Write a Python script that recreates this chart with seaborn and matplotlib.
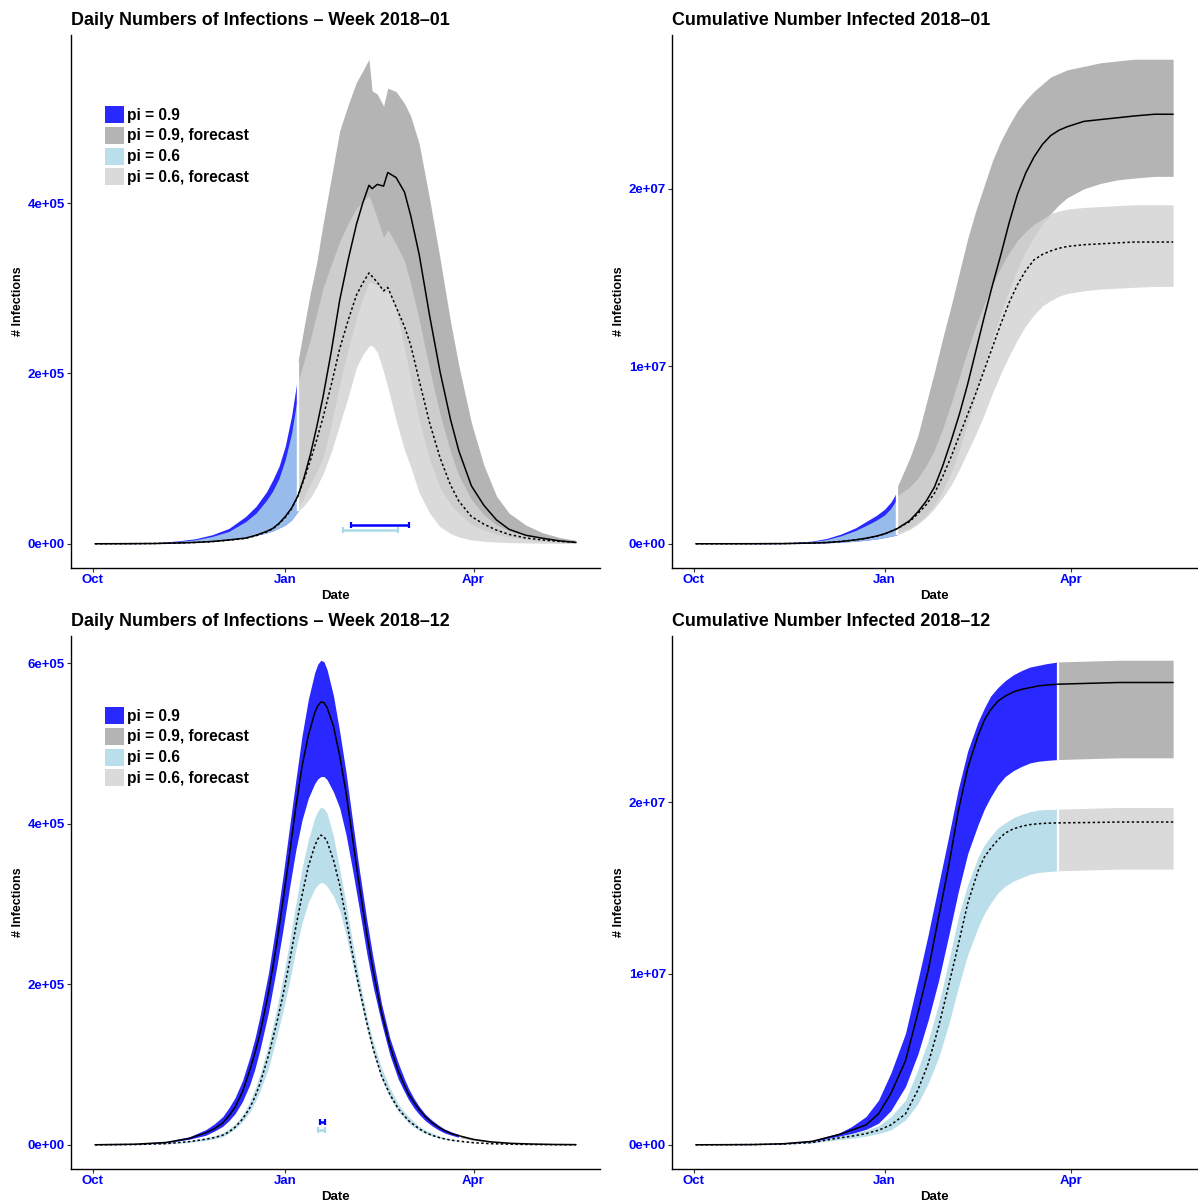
import numpy as np
import pandas as pd
import matplotlib
matplotlib.use("Agg")
import matplotlib.pyplot as plt
import matplotlib.dates as mdates
import matplotlib.ticker as mticker
from matplotlib.patches import Patch
import seaborn as sns

# ---------------------------------------------------------------- data
# days counted from 2017-10-01; daily values in units of 1e5, cumulative in 1e7
DAILY_UNIT = 1e5
CUM_UNIT = 1e7

# ---- Top-left: daily, week 2018-01
tl_obs_days = [1, 15, 29, 41, 49, 57, 65, 73, 78, 83, 86, 89, 92, 95, 98]
tl_obs_p9_hi = [0.0, 0.002, 0.01, 0.035, 0.059, 0.106, 0.18, 0.32, 0.44, 0.61, 0.75, 0.91, 1.15, 1.50, 1.98]
tl_obs_p9_lo = [0.0, 0.001, 0.004, 0.01, 0.018, 0.03, 0.047, 0.074, 0.098, 0.127, 0.15, 0.185, 0.22, 0.28, 0.38]
tl_obs_p6_hi = [0.0, 0.002, 0.008, 0.028, 0.047, 0.086, 0.145, 0.26, 0.36, 0.51, 0.62, 0.77, 0.99, 1.30, 1.75]
tl_obs_p6_lo = [0.0, 0.001, 0.004, 0.01, 0.018, 0.03, 0.047, 0.074, 0.098, 0.127, 0.15, 0.185, 0.22, 0.28, 0.38]
tl_obs_med9 = [0.0, 0.001, 0.003, 0.01, 0.016, 0.027, 0.045, 0.067, 0.10, 0.145, 0.18, 0.24, 0.32, 0.42, 0.56]
tl_obs_med6 = [0.0, 0.001, 0.003, 0.009, 0.015, 0.025, 0.042, 0.063, 0.095, 0.14, 0.175, 0.235, 0.31, 0.41, 0.56]

tl_fc_days = [98, 101, 104, 107, 110, 114, 118, 122, 126, 129, 132, 133.5, 136, 139, 141, 145,
              149, 152, 156, 161, 166, 171, 175, 181, 187, 193, 199, 207, 215, 223, 231]
tl_fc_p9_hi = [2.13, 2.55, 2.95, 3.30, 3.75, 4.30, 4.85, 5.15, 5.42, 5.55, 5.69, 5.32, 5.28, 5.14, 5.35, 5.31,
               5.17, 5.02, 4.70, 4.05, 3.35, 2.61, 2.09, 1.42, 0.92, 0.56, 0.36, 0.22, 0.13, 0.075, 0.04]
tl_fc_p9_lo = [0.42, 0.55, 0.70, 0.84, 1.01, 1.40, 1.87, 2.28, 2.65, 2.88, 3.07, 3.06, 3.04, 2.95, 2.98, 2.75,
               2.30, 1.92, 1.45, 0.99, 0.66, 0.46, 0.36, 0.23, 0.16, 0.11, 0.08, 0.05, 0.03, 0.018, 0.01]
tl_fc_p6_hi = [1.89, 2.15, 2.40, 2.70, 3.00, 3.28, 3.55, 3.76, 3.94, 4.02, 4.09, 4.00, 3.82, 3.60, 3.69, 3.52,
               3.32, 3.05, 2.63, 2.05, 1.52, 1.08, 0.80, 0.52, 0.34, 0.22, 0.15, 0.095, 0.06, 0.04, 0.03]
tl_fc_p6_lo = [0.38, 0.45, 0.54, 0.67, 0.82, 1.08, 1.40, 1.72, 2.07, 2.22, 2.32, 2.33, 2.25, 2.02, 1.84, 1.45,
               1.10, 0.90, 0.60, 0.36, 0.20, 0.12, 0.08, 0.045, 0.03, 0.02, 0.014, 0.01, 0.007, 0.005, 0.004]
tl_fc_med9 = [0.56, 0.78, 1.05, 1.37, 1.72, 2.26, 2.86, 3.33, 3.75, 4.00, 4.21, 4.17, 4.22, 4.20, 4.36, 4.30,
              4.13, 3.85, 3.40, 2.68, 2.02, 1.46, 1.09, 0.68, 0.45, 0.28, 0.17, 0.10, 0.065, 0.035, 0.016]
tl_fc_med6 = [0.56, 0.76, 0.98, 1.22, 1.48, 1.87, 2.29, 2.62, 2.92, 3.06, 3.18, 3.14, 3.07, 2.97, 3.01, 2.78,
              2.55, 2.33, 1.92, 1.42, 1.01, 0.69, 0.50, 0.32, 0.23, 0.16, 0.11, 0.068, 0.045, 0.028, 0.016]
# peak-timing intervals: (start day, end day, height)
tl_peak_p9 = (123.6, 151.3, 0.22)
tl_peak_p6 = (119.7, 146.0, 0.165)

# ---- Top-right: cumulative, week 2018-01
tr_obs_days = [1, 15, 29, 43, 57, 64, 71, 78, 83, 88, 92, 95, 98]
tr_obs_p9_hi = [0.0, 0.0003, 0.001, 0.004, 0.015, 0.03, 0.055, 0.09, 0.125, 0.16, 0.195, 0.235, 0.295]
tr_obs_p9_lo = [0.0, 0.0001, 0.0003, 0.001, 0.003, 0.005, 0.009, 0.014, 0.02, 0.027, 0.035, 0.042, 0.05]
tr_obs_p6_hi = [0.0, 0.0002, 0.0008, 0.003, 0.012, 0.024, 0.045, 0.075, 0.103, 0.133, 0.163, 0.20, 0.255]
tr_obs_p6_lo = [0.0, 0.0001, 0.0003, 0.001, 0.003, 0.005, 0.009, 0.014, 0.02, 0.027, 0.035, 0.042, 0.05]
tr_obs_med9 = [0.0, 0.0001, 0.0003, 0.001, 0.004, 0.007, 0.013, 0.022, 0.031, 0.043, 0.056, 0.07, 0.085]
tr_obs_med6 = [0.0, 0.0001, 0.0003, 0.001, 0.004, 0.007, 0.013, 0.022, 0.031, 0.043, 0.056, 0.07, 0.085]

tr_fc_days = [98, 104, 108, 112, 116, 120, 124, 128, 132, 136, 140, 144, 148, 152, 156, 160, 164,
              168, 172, 176, 180, 188, 196, 204, 212, 222, 231]
tr_fc_p9_hi = [0.32, 0.48, 0.61, 0.79, 0.97, 1.16, 1.34, 1.53, 1.72, 1.88, 2.02, 2.16, 2.27, 2.36, 2.44,
               2.50, 2.55, 2.59, 2.63, 2.65, 2.67, 2.69, 2.71, 2.72, 2.73, 2.73, 2.73]
tr_fc_p9_lo = [0.06, 0.09, 0.12, 0.16, 0.22, 0.30, 0.40, 0.53, 0.68, 0.84, 1.00, 1.16, 1.30, 1.43, 1.55,
               1.65, 1.73, 1.80, 1.86, 1.91, 1.95, 2.00, 2.03, 2.05, 2.06, 2.07, 2.07]
tr_fc_p6_hi = [0.27, 0.32, 0.37, 0.44, 0.53, 0.65, 0.79, 0.94, 1.09, 1.23, 1.35, 1.46, 1.56, 1.64, 1.71,
               1.76, 1.80, 1.83, 1.86, 1.875, 1.885, 1.895, 1.90, 1.905, 1.91, 1.91, 1.91]
tr_fc_p6_lo = [0.05, 0.08, 0.11, 0.15, 0.20, 0.26, 0.33, 0.42, 0.52, 0.62, 0.73, 0.85, 0.96, 1.06, 1.15,
               1.23, 1.29, 1.34, 1.37, 1.395, 1.41, 1.425, 1.435, 1.44, 1.445, 1.45, 1.45]
tr_fc_med9 = [0.085, 0.13, 0.18, 0.24, 0.32, 0.44, 0.58, 0.73, 0.90, 1.09, 1.28, 1.46, 1.63, 1.81, 1.97,
              2.09, 2.18, 2.25, 2.30, 2.33, 2.35, 2.38, 2.39, 2.40, 2.41, 2.42, 2.42]
tr_fc_med6 = [0.085, 0.125, 0.17, 0.22, 0.285, 0.38, 0.49, 0.61, 0.73, 0.85, 0.98, 1.11, 1.24, 1.36, 1.46,
              1.54, 1.60, 1.63, 1.65, 1.665, 1.675, 1.685, 1.69, 1.695, 1.70, 1.70, 1.70]

# ---- Bottom-left: daily, week 2018-12
bl_obs_days = [1, 20, 35, 46, 54, 58, 62, 65, 68, 71.5, 75, 77.5, 80, 84, 88, 91, 94, 97, 100, 103,
               106, 107.5, 109, 110.5, 112, 115, 118, 121, 124, 127, 131, 134, 138, 142, 146, 149,
               151, 153.5, 156, 159, 162, 165, 168, 171.5, 175.5]
bl_obs_p9_hi = [0.001, 0.01, 0.04, 0.10, 0.19, 0.26, 0.35, 0.46, 0.59, 0.80, 1.09, 1.33, 1.62, 2.15, 2.82,
                3.37, 3.96, 4.54, 5.10, 5.55, 5.88, 5.99, 6.04, 6.02, 5.92, 5.60, 5.15, 4.65, 4.07, 3.50,
                2.80, 2.33, 1.76, 1.33, 1.02, 0.82, 0.70, 0.58, 0.48, 0.38, 0.31, 0.25, 0.20, 0.16, 0.125]
bl_obs_p9_lo = [0.001, 0.005, 0.025, 0.07, 0.12, 0.17, 0.23, 0.30, 0.39, 0.54, 0.75, 0.95, 1.20, 1.66, 2.23,
                2.70, 3.20, 3.67, 4.05, 4.32, 4.50, 4.56, 4.59, 4.59, 4.55, 4.40, 4.20, 3.87, 3.45, 3.00,
                2.38, 1.97, 1.52, 1.12, 0.82, 0.66, 0.56, 0.46, 0.38, 0.30, 0.24, 0.19, 0.15, 0.12, 0.09]
bl_obs_p6_hi = [0.001, 0.005, 0.02, 0.05, 0.09, 0.115, 0.15, 0.20, 0.26, 0.37, 0.54, 0.70, 0.89, 1.25, 1.71,
                2.10, 2.53, 3.00, 3.45, 3.80, 4.07, 4.16, 4.21, 4.19, 4.13, 3.85, 3.44, 3.02, 2.55, 2.12,
                1.60, 1.29, 0.96, 0.71, 0.51, 0.41, 0.35, 0.29, 0.23, 0.185, 0.15, 0.115, 0.09, 0.07, 0.05]
bl_obs_p6_lo = [0.001, 0.003, 0.012, 0.03, 0.055, 0.075, 0.10, 0.145, 0.20, 0.29, 0.41, 0.53, 0.68, 0.96, 1.36,
                1.68, 2.03, 2.43, 2.77, 3.02, 3.19, 3.24, 3.27, 3.26, 3.22, 3.10, 2.92, 2.62, 2.26, 1.90,
                1.44, 1.14, 0.82, 0.59, 0.42, 0.33, 0.27, 0.22, 0.18, 0.14, 0.11, 0.088, 0.07, 0.053, 0.04]
bl_obs_med9 = [0.001, 0.008, 0.03, 0.08, 0.15, 0.20, 0.27, 0.36, 0.47, 0.66, 0.93, 1.15, 1.40, 1.90, 2.53,
               3.07, 3.62, 4.21, 4.72, 5.10, 5.38, 5.47, 5.52, 5.51, 5.45, 5.22, 4.85, 4.40, 3.85, 3.30,
               2.62, 2.17, 1.65, 1.24, 0.92, 0.74, 0.63, 0.53, 0.44, 0.35, 0.28, 0.225, 0.18, 0.14, 0.11]
bl_obs_med6 = [0.001, 0.004, 0.015, 0.04, 0.07, 0.09, 0.12, 0.16, 0.22, 0.32, 0.46, 0.60, 0.77, 1.12, 1.53,
               1.88, 2.28, 2.71, 3.11, 3.47, 3.72, 3.81, 3.86, 3.84, 3.78, 3.55, 3.24, 2.83, 2.40, 2.00,
               1.52, 1.20, 0.86, 0.63, 0.45, 0.36, 0.30, 0.25, 0.20, 0.155, 0.12, 0.095, 0.075, 0.058, 0.045]

bl_fc_days = [175.5, 182, 190, 200, 210, 220, 231]
bl_fc_p9_hi = [0.125, 0.08, 0.045, 0.022, 0.011, 0.006, 0.003]
bl_fc_p9_lo = [0.09, 0.055, 0.03, 0.015, 0.008, 0.004, 0.002]
bl_fc_p6_hi = [0.05, 0.03, 0.017, 0.009, 0.005, 0.003, 0.002]
bl_fc_p6_lo = [0.04, 0.024, 0.013, 0.007, 0.004, 0.002, 0.001]
bl_fc_med9 = [0.11, 0.068, 0.038, 0.019, 0.01, 0.005, 0.003]
bl_fc_med6 = [0.045, 0.027, 0.015, 0.008, 0.004, 0.002, 0.001]
bl_peak_p9 = (108.5, 111.2, 0.28)
bl_peak_p6 = (107.4, 111.2, 0.19)

# ---- Bottom-right: cumulative, week 2018-12
br_obs_days = [1, 15, 29, 43, 57, 70, 76, 83, 89, 95, 102, 108, 113, 118, 123, 127.5, 132, 137, 140,
               143, 146.5, 150, 154, 158, 162, 166, 170, 175.5]
br_obs_p9_hi = [0.0, 0.0005, 0.002, 0.008, 0.025, 0.068, 0.106, 0.165, 0.26, 0.42, 0.65, 0.96, 1.23, 1.52,
                1.81, 2.08, 2.30, 2.47, 2.55, 2.62, 2.67, 2.71, 2.745, 2.77, 2.79, 2.80, 2.81, 2.82]
br_obs_p9_lo = [0.0, 0.0003, 0.001, 0.005, 0.016, 0.05, 0.065, 0.09, 0.126, 0.20, 0.34, 0.53, 0.73, 0.96,
                1.23, 1.48, 1.70, 1.87, 1.96, 2.03, 2.10, 2.15, 2.185, 2.21, 2.23, 2.24, 2.245, 2.25]
br_obs_p6_hi = [0.0, 0.0003, 0.0012, 0.005, 0.018, 0.05, 0.066, 0.085, 0.11, 0.165, 0.26, 0.44, 0.61, 0.82,
                1.08, 1.33, 1.52, 1.68, 1.75, 1.80, 1.85, 1.88, 1.91, 1.93, 1.945, 1.955, 1.958, 1.96]
br_obs_p6_lo = [0.0, 0.0002, 0.0008, 0.003, 0.01, 0.03, 0.038, 0.05, 0.065, 0.087, 0.145, 0.24, 0.36, 0.51,
                0.71, 0.92, 1.11, 1.27, 1.35, 1.41, 1.47, 1.51, 1.54, 1.56, 1.58, 1.59, 1.595, 1.60]
br_obs_med9 = [0.0, 0.0004, 0.0015, 0.006, 0.02, 0.06, 0.085, 0.116, 0.18, 0.30, 0.49, 0.77, 1.02, 1.33,
               1.64, 1.95, 2.20, 2.39, 2.48, 2.54, 2.59, 2.62, 2.645, 2.66, 2.67, 2.68, 2.685, 2.69]
br_obs_med6 = [0.0, 0.0003, 0.001, 0.004, 0.013, 0.04, 0.05, 0.065, 0.085, 0.116, 0.18, 0.32, 0.475, 0.69,
               0.94, 1.17, 1.41, 1.60, 1.68, 1.73, 1.78, 1.82, 1.845, 1.86, 1.87, 1.875, 1.878, 1.88]

br_fc_days = [175.5, 190, 205, 220, 231]
br_fc_p9_hi = [2.82, 2.825, 2.83, 2.83, 2.83]
br_fc_p9_lo = [2.25, 2.255, 2.26, 2.26, 2.26]
br_fc_p6_hi = [1.96, 1.965, 1.97, 1.97, 1.97]
br_fc_p6_lo = [1.60, 1.605, 1.61, 1.61, 1.61]
br_fc_med9 = [2.69, 2.695, 2.70, 2.70, 2.70]
br_fc_med6 = [1.88, 1.882, 1.885, 1.885, 1.885]

legend_labels = ["pi = 0.9", "pi = 0.9, forecast", "pi = 0.6", "pi = 0.6, forecast"]
titles = ["Daily Numbers of Infections \u2013 Week 2018\u201301",
          "Cumulative Number Infected 2018\u201301",
          "Daily Numbers of Infections \u2013 Week 2018\u201312",
          "Cumulative Number Infected 2018\u201312"]

# ---------------------------------------------------------------- style
sns.set_theme(style="ticks")
plt.rcParams['font.family'] = ['Liberation Sans', 'DejaVu Sans']
plt.rcParams['font.weight'] = 'bold'
plt.rcParams['axes.labelweight'] = 'bold'
plt.rcParams['axes.titleweight'] = 'bold'
plt.rcParams['text.color'] = 'black'
plt.rcParams['axes.labelcolor'] = 'black'

FILL_ALPHA = 0.84
C_P9 = "#0000FF"
C_P9_FC = "#A6A6A6"
C_P6 = "#ADD8E6"
C_P6_FC = "#D3D3D3"

START = pd.Timestamp("2017-10-01")


def to_x(days):
    return mdates.date2num(START + pd.to_timedelta(np.asarray(days, float), unit="D"))


def draw_panel(ax, unit, obs, fc, title, peaks=None, legend=False, ystep=2e5):
    od, o9h, o9l, o6h, o6l, om9, om6 = obs
    fd, f9h, f9l, f6h, f6l, fm9, fm6 = fc
    ox, fx = to_x(od), to_x(fd)
    s = unit
    ax.fill_between(ox, np.array(o9l) * s, np.array(o9h) * s, color=C_P9, alpha=FILL_ALPHA, lw=0)
    ax.fill_between(fx, np.array(f9l) * s, np.array(f9h) * s, color=C_P9_FC, alpha=FILL_ALPHA, lw=0)
    ax.fill_between(ox, np.array(o6l) * s, np.array(o6h) * s, color=C_P6, alpha=FILL_ALPHA, lw=0)
    ax.fill_between(fx, np.array(f6l) * s, np.array(f6h) * s, color=C_P6_FC, alpha=FILL_ALPHA, lw=0)

    # white separator where the forecast starts
    for lo_a, lo_b, hi_a, hi_b in ((o9l[-1], f9l[0], o9h[-1], f9h[0]), (o6l[-1], f6l[0], o6h[-1], f6h[0])):
        ax.vlines(fx[0], min(lo_a, lo_b) * s, max(hi_a, hi_b) * s, color="white", lw=1.6, zorder=2.5)

    allx = np.concatenate([ox, fx[1:]])
    m9 = np.concatenate([om9, fm9[1:]]) * s
    m6 = np.concatenate([om6, fm6[1:]]) * s
    df9 = pd.DataFrame({"x": allx, "y": m9})
    df6 = pd.DataFrame({"x": allx, "y": m6})
    sns.lineplot(data=df9, x="x", y="y", ax=ax, color="black", lw=1.1, estimator=None, sort=False, zorder=3)
    sns.lineplot(data=df6, x="x", y="y", ax=ax, color="black", lw=1.1, estimator=None, sort=False,
                 linestyle=(0, (1.6, 1.6)), zorder=3)

    if peaks is not None:
        for (a, b, h), c in zip(peaks, [C_P9, C_P6]):
            xa, xb = to_x([a, b])
            ax.errorbar((xa + xb) / 2, h * s, xerr=(xb - xa) / 2, fmt="none", ecolor=c,
                        elinewidth=1.8, capsize=2.2, capthick=1.6)

    ax.margins(x=0.05, y=0.05)
    ax.xaxis.set_major_locator(mdates.MonthLocator(bymonth=[1, 4, 10]))
    ax.xaxis.set_major_formatter(mdates.DateFormatter("%b"))
    ax.yaxis.set_major_locator(mticker.MultipleLocator(ystep))
    ax.yaxis.set_major_formatter(mticker.FuncFormatter(lambda v, p: f"{v:.0e}"))
    ax.tick_params(axis="both", labelcolor="blue", labelsize=9.5, length=2.8, width=0.8,
                   color="#333333", pad=1.5)
    ax.set_xlabel("Date", fontsize=9.5, labelpad=3, color="black")
    ax.set_ylabel("# Infections", fontsize=9, labelpad=2.5, color="black")
    ax.set_title(title, loc="left", fontsize=12.9, pad=7, color="black")
    sns.despine(ax=ax)
    for sp in ("left", "bottom"):
        ax.spines[sp].set_color("black")
        ax.spines[sp].set_linewidth(1.0)

    if legend:
        handles = [Patch(facecolor=c, alpha=FILL_ALPHA, edgecolor="none")
                   for c in (C_P9, C_P9_FC, C_P6, C_P6_FC)]
        ax.legend(handles, legend_labels, loc="upper left", bbox_to_anchor=(0.064, 0.867),
                  frameon=False, fontsize=11.2, handlelength=1.2, handleheight=1.3,
                  labelspacing=0.25, handletextpad=0.2, borderpad=0, borderaxespad=0,
                  labelcolor="black")


fig = plt.figure(figsize=(11.98, 12.02), dpi=100)
W, H = 1198.0, 1202.0


def axes_px(l, t, r, b):
    return fig.add_axes([l / W, 1 - b / H, (r - l) / W, (b - t) / H])


ax_tl = axes_px(71, 35, 600, 568)
ax_tr = axes_px(672, 35, 1197, 568)
ax_bl = axes_px(71, 636, 600, 1169)
ax_br = axes_px(672, 636, 1197, 1169)

draw_panel(ax_tl, DAILY_UNIT,
           (tl_obs_days, tl_obs_p9_hi, tl_obs_p9_lo, tl_obs_p6_hi, tl_obs_p6_lo, tl_obs_med9, tl_obs_med6),
           (tl_fc_days, tl_fc_p9_hi, tl_fc_p9_lo, tl_fc_p6_hi, tl_fc_p6_lo, tl_fc_med9, tl_fc_med6),
           titles[0], peaks=(tl_peak_p9, tl_peak_p6), legend=True, ystep=2e5)
draw_panel(ax_tr, CUM_UNIT,
           (tr_obs_days, tr_obs_p9_hi, tr_obs_p9_lo, tr_obs_p6_hi, tr_obs_p6_lo, tr_obs_med9, tr_obs_med6),
           (tr_fc_days, tr_fc_p9_hi, tr_fc_p9_lo, tr_fc_p6_hi, tr_fc_p6_lo, tr_fc_med9, tr_fc_med6),
           titles[1], ystep=1e7)
draw_panel(ax_bl, DAILY_UNIT,
           (bl_obs_days, bl_obs_p9_hi, bl_obs_p9_lo, bl_obs_p6_hi, bl_obs_p6_lo, bl_obs_med9, bl_obs_med6),
           (bl_fc_days, bl_fc_p9_hi, bl_fc_p9_lo, bl_fc_p6_hi, bl_fc_p6_lo, bl_fc_med9, bl_fc_med6),
           titles[2], peaks=(bl_peak_p9, bl_peak_p6), legend=True, ystep=2e5)
draw_panel(ax_br, CUM_UNIT,
           (br_obs_days, br_obs_p9_hi, br_obs_p9_lo, br_obs_p6_hi, br_obs_p6_lo, br_obs_med9, br_obs_med6),
           (br_fc_days, br_fc_p9_hi, br_fc_p9_lo, br_fc_p6_hi, br_fc_p6_lo, br_fc_med9, br_fc_med6),
           titles[3], ystep=1e7)

fig.savefig("out.png", dpi=100, facecolor="white")
